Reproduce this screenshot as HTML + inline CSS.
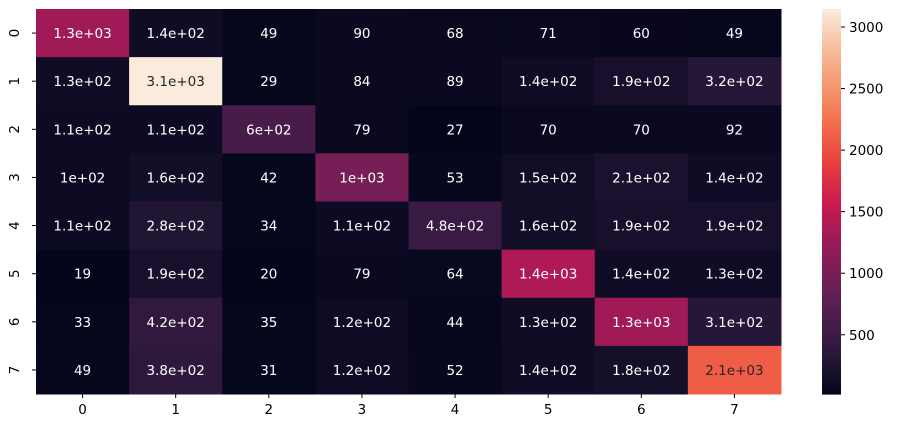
<!DOCTYPE html>
<html><head><meta charset="utf-8"><style>
html,body{margin:0;padding:0;background:#fff;}
svg text{font-family:"DejaVu Sans","Liberation Sans",sans-serif;font-size:13.5px;}
</style></head><body>
<svg id="chart" width="898" height="428" xmlns="http://www.w3.org/2000/svg"></svg>
<script>
const rowLabels = ["0","1","2","3","4","5","6","7"];
const colLabels = ["0","1","2","3","4","5","6","7"];
const row0 = [1300,140,49,90,68,71,60,49];
const row1 = [130,3146,29,84,89,140,190,320];
const row2 = [110,110,600,79,27,70,70,92];
const row3 = [100,160,42,1000,53,150,210,140];
const row4 = [110,280,34,110,480,160,190,190];
const row5 = [19,190,20,79,64,1400,140,130];
const row6 = [33,420,35,120,44,130,1300,310];
const row7 = [49,380,31,120,52,140,180,2100];
const cbTicks = [500,1000,1500,2000,2500,3000];
const matrix = [row0,row1,row2,row3,row4,row5,row6,row7];

const NS="http://www.w3.org/2000/svg";
const svg=document.getElementById('chart');
function mk(t,a,p){const e=document.createElementNS(NS,t);for(const k in a)e.setAttribute(k,a[k]);(p||svg).appendChild(e);return e;}
const all=matrix.flat();
const vmin=Math.min(...all), vmax=Math.max(...all);
const stops=[[3,5,26],[39,24,57],[76,29,75],[114,31,87],[155,26,89],[203,27,79],[232,62,63],[242,109,75],[245,150,109],[246,189,155],[250,235,221]];
function cmap(t){t=Math.max(0,Math.min(1,t));const f=t*10,i=Math.min(9,Math.floor(f)),r=f-i;const a=stops[i],b=stops[i+1];return [0,1,2].map(k=>Math.round(a[k]+(b[k]-a[k])*r));}
function fmt(v){if(v<100)return String(Math.round(v));const e=Math.floor(Math.log10(v));let m=(v/Math.pow(10,e)).toPrecision(2);if(m.endsWith('.0'))m=m.slice(0,-2);if(parseFloat(m)>=10){m='1';}return m+'e+'+String(e).padStart(2,'0');}
const X0=36,X1=781,Y0=9,Y1=394;
const cw=(X1-X0)/colLabels.length, ch=(Y1-Y0)/rowLabels.length;
const xPos=j=>X0+j*cw, yPos=i=>Y0+i*ch;
matrix.forEach((row,i)=>row.forEach((v,j)=>{
  const c=cmap((v-vmin)/(vmax-vmin));
  const r=mk('rect',{x:xPos(j),y:yPos(i),width:cw+0.5,height:ch+0.5,fill:`rgb(${c})`});
  
  
  const lum=(0.2126*c[0]+0.7152*c[1]+0.0722*c[2])/255;
  const t=mk('text',{x:xPos(j)+cw/2,y:yPos(i)+ch/2+5,'text-anchor':'middle',fill:lum>0.408?'#262626':'#fff'});
  t.textContent=fmt(v);
  
  
}));
colLabels.forEach((l,j)=>{
  mk('line',{x1:xPos(j)+cw/2,x2:xPos(j)+cw/2,y1:Y1,y2:Y1+4,stroke:'#000'});
  const t=mk('text',{x:xPos(j)+cw/2,y:Y1+20,'text-anchor':'middle',fill:'#000'});t.textContent=l;
  
  
});
rowLabels.forEach((l,i)=>{
  const y=yPos(i)+ch/2;
  mk('line',{x1:X0-4,x2:X0,y1:y,y2:y,stroke:'#000'});
  const t=mk('text',{x:0,y:0,'text-anchor':'middle',fill:'#000',transform:`translate(19,${y}) rotate(-90)`});t.textContent=l;
  
  
});
const CX=822,CW=19;
const cb=mk('g',{});


const N=200;
for(let k=0;k<N;k++){const c=cmap(1-k/N);mk('rect',{x:CX,y:Y0+k*(Y1-Y0)/N,width:CW,height:(Y1-Y0)/N+0.6,fill:`rgb(${c})`},cb);}
const cy=v=>Y1-(v-vmin)/(vmax-vmin)*(Y1-Y0);
cbTicks.forEach(v=>{
  mk('line',{x1:CX+CW,x2:CX+CW+4,y1:cy(v),y2:cy(v),stroke:'#000'});
  const t=mk('text',{x:CX+CW+8,y:cy(v)+5,fill:'#000'});t.textContent=v;
  
  
});
</script>
</body></html>
